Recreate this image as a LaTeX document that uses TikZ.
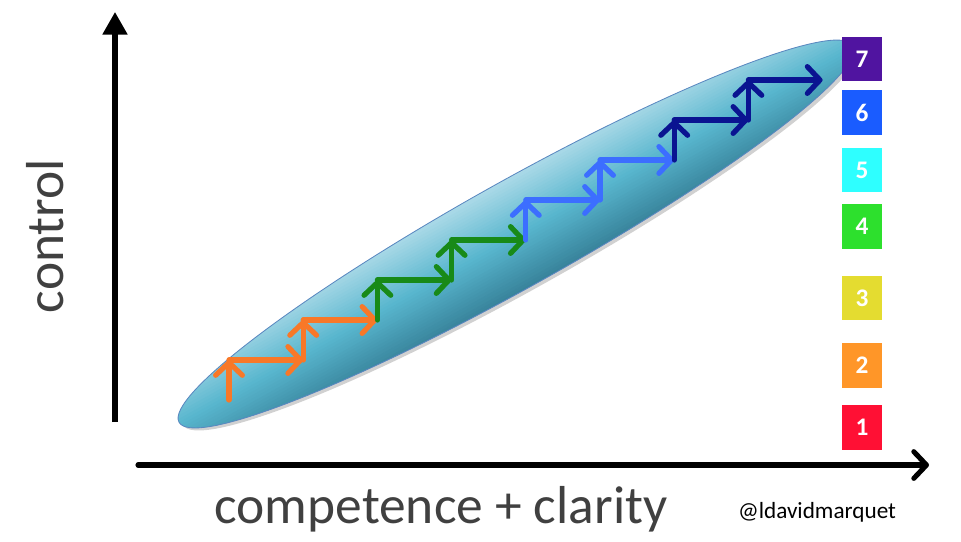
\documentclass[tikz,border=0pt]{standalone}
\usepackage{fontspec}
\setmainfont{Carlito}
\usepackage{tikz}
\usetikzlibrary{arrows.meta}
\definecolor{axisgray}{RGB}{64,64,64}
\definecolor{ellipsetop}{RGB}{172,218,232}
\definecolor{ellipsemid}{RGB}{88,182,206}
\definecolor{ellipsebot}{RGB}{54,128,152}
\definecolor{ellipseline}{RGB}{90,136,192}
\definecolor{steporange}{RGB}{248,120,40}
\definecolor{stepgreen}{RGB}{24,138,24}
\definecolor{steplight}{RGB}{60,110,255}
\definecolor{stepdark}{RGB}{10,20,145}
\definecolor{lvlone}{RGB}{255,16,52}
\definecolor{lvltwo}{RGB}{255,150,40}
\definecolor{lvlthree}{RGB}{228,220,48}
\definecolor{lvlfour}{RGB}{45,224,45}
\definecolor{lvlfive}{RGB}{46,255,255}
\definecolor{lvlsix}{RGB}{26,92,255}
\definecolor{lvlseven}{RGB}{80,20,160}

\begin{document}
\begin{tikzpicture}[
  x=0.025cm, y=-0.025cm,
  axis/.style={line width=3.6pt, black},
  stair/.style={line width=3.7pt, line cap=round, line join=round, -{Straight Barb[length=9pt,width=19pt,round]}},
  level/.style={rectangle, minimum width=1cm, minimum height=1.12cm, inner sep=0pt, text=white, font=\bfseries\fontsize{18}{18}\selectfont}
]
\useasboundingbox (0,0) rectangle (961,541);

% ellipse, shaded across its width
\begin{scope}[shift={(516,234)}, rotate=29.2]
  \fill[black, opacity=0.18] (2,4) ellipse [x radius=386, y radius=53];
  \begin{scope}
    \clip (0,0) ellipse [x radius=386, y radius=53];
    \foreach \v in {-54,-51,...,54} {
      \ifdim \v pt<0pt
        \pgfmathtruncatemacro\p{100*(-\v)/54}
        \fill[ellipsetop!\p!ellipsemid] (-400,\v) rectangle (400,\v+3.6);
      \else
        \pgfmathtruncatemacro\p{100*\v/54}
        \fill[ellipsebot!\p!ellipsemid] (-400,\v) rectangle (400,\v+3.6);
      \fi
    }
  \end{scope}
  \draw[ellipseline, line width=0.6pt] (0,0) ellipse [x radius=386, y radius=53];
\end{scope}

% axes
\coordinate (yfoot) at (115,422);
\coordinate (ytip) at (115,12);
\coordinate (xfoot) at (138,465);
\coordinate (xtip) at (929,465);
\draw[axis, -{Triangle[length=16pt,width=17pt]}] (yfoot) -- (ytip);
\draw[axis, line cap=round, -{Straight Barb[length=9pt,width=19pt,round]}] (xfoot) -- (xtip);

% staircase
\foreach \i/\col in {0/steporange,1/steporange,2/stepgreen,3/stepgreen,4/steplight,5/steplight,6/stepdark,7/stepdark} {
  \coordinate (b\i) at ({229+74.2*\i},{400-40*\i});
  \coordinate (t\i) at ({229+74.2*\i},{360-40*\i});
  \coordinate (e\i) at ({229+74.2*(\i+1)},{360-40*\i});
  \draw[stair, \col] (b\i) -- (t\i);
  \draw[stair, \col] (t\i) -- (e\i);
}

% levels
\node[level, fill=lvlseven] (l7) at (862,59) {7};
\node[level, fill=lvlsix] (l6) at (862,112.5) {6};
\node[level, fill=lvlfive] (l5) at (862,170) {5};
\node[level, fill=lvlfour] (l4) at (862,226.5) {4};
\node[level, fill=lvlthree] (l3) at (862,298) {3};
\node[level, fill=lvltwo] (l2) at (862,365.5) {2};
\node[level, fill=lvlone] (l1) at (862,427.5) {1};

% labels
\node[anchor=base, text=axisgray, font=\fontsize{38}{38}\selectfont] (xlabel) at (441,523) {competence + clarity};
\node[anchor=base, rotate=90, text=axisgray, font=\fontsize{38}{38}\selectfont] (ylabel) at (63,236) {control};
\node[font=\fontsize{16.5}{16.5}\selectfont] (credit) at (817,512) {@ldavidmarquet};
\end{tikzpicture}
\end{document}
